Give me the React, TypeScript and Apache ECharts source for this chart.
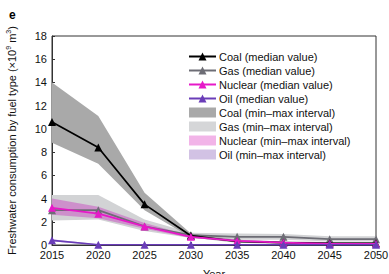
import React, { useEffect, useRef } from "react";
import * as echarts from "echarts";

const years = ["2015", "2020", "2025", "2030", "2035", "2040", "2045", "2050"];
const yTicks = [0, 18, 2];

const coalMedian = [10.6, 8.4, 3.5, 0.8, 0.3, 0.2, 0.15, 0.15];
const coalMin = [8.8, 7.0, 3.0, 0.65, 0.2, 0.1, 0.05, 0.05];
const coalMax = [14.0, 11.1, 4.5, 1.0, 0.45, 0.3, 0.25, 0.25];

const gasMedian = [3.0, 3.0, 1.6, 0.85, 0.7, 0.7, 0.5, 0.5];
const gasMin = [2.1, 2.2, 1.2, 0.6, 0.45, 0.45, 0.3, 0.3];
const gasMax = [4.3, 4.3, 2.2, 1.05, 1.0, 0.95, 0.75, 0.75];

const nuclearMedian = [3.2, 2.7, 1.6, 0.7, 0.35, 0.2, 0.1, 0.1];
const nuclearMin = [2.6, 2.3, 1.4, 0.6, 0.3, 0.15, 0.05, 0.05];
const nuclearMax = [4.0, 3.3, 1.9, 0.8, 0.45, 0.3, 0.15, 0.15];

const oilMedian = [0.4, 0.02, 0.02, 0.02, 0.02, 0.02, 0.02, 0.02];
const oilMin = [0.3, 0.0, 0.0, 0.0, 0.0, 0.0, 0.0, 0.0];
const oilMax = [0.5, 0.06, 0.06, 0.06, 0.06, 0.06, 0.06, 0.06];

const FONT = "Liberation Sans";

function band(key: string, name: string, mins: number[], maxs: number[], color: string, z: number) {
  return [
    {
      type: "line",
      name: key + "-base",
      stack: key,
      data: mins,
      symbol: "none",
      lineStyle: { opacity: 0 },
      silent: true,
      z,
    },
    {
      type: "line",
      name,
      stack: key,
      data: maxs.map((v, i) => +(v - mins[i]).toFixed(3)),
      symbol: "none",
      lineStyle: { opacity: 0 },
      areaStyle: { color, opacity: 1 },
      itemStyle: { color },
      silent: true,
      z,
    },
  ];
}

function median(name: string, data: number[], color: string, z: number) {
  return {
    type: "line",
    name,
    data,
    symbol: "triangle",
    symbolSize: 8,
    lineStyle: { color, width: 1.7 },
    itemStyle: { color },
    z,
  };
}

export default function App() {
  const ref = useRef<HTMLDivElement>(null);
  useEffect(() => {
    if (!ref.current) return;
    const chart = echarts.init(ref.current, null, { renderer: "svg" });
    chart.setOption({
      animation: false,
      textStyle: { fontFamily: FONT },
      graphic: [
        {
          type: "text",
          left: 9,
          top: 9,
          style: { text: "e", font: `bold 12px ${FONT}`, fill: "#000" },
        },
      ],
      grid: {
        left: 52,
        right: 13,
        top: 36,
        bottom: 29,
        outerBoundsMode: "none",
        containLabel: false,
        show: true,
        borderColor: "#333",
        borderWidth: 1,
        backgroundColor: "transparent",
      },
      legend: {
        orient: "vertical",
        left: 183,
        top: 46,
        itemWidth: 27,
        itemHeight: 10,
        itemGap: 3,
        textStyle: { fontFamily: FONT, fontSize: 11, color: "#111", padding: [0, 0, 0, -2] },
        data: [
          { name: "Coal (median value)" },
          { name: "Gas (median value)" },
          { name: "Nuclear (median value)" },
          { name: "Oil (median value)" },
          { name: "Coal (min–max interval)", icon: "rect", itemStyle: { color: "#a9a9a9" } },
          { name: "Gas (min–max interval)", icon: "rect", itemStyle: { color: "#d5d6d8" } },
          { name: "Nuclear (min–max interval)", icon: "rect", itemStyle: { color: "#f2b4e8" } },
          { name: "Oil (min–max interval)", icon: "rect", itemStyle: { color: "#d2c2e4" } },
        ],
      },
      xAxis: {
        type: "category",
        data: years,
        boundaryGap: false,
        name: "Year",
        nameLocation: "middle",
        nameGap: 23,
        nameTextStyle: { fontSize: 11, color: "#111" },
        axisLine: { lineStyle: { color: "#333" } },
        axisTick: { inside: true, length: 3, lineStyle: { color: "#333" } },
        axisLabel: { fontSize: 11, color: "#111", margin: 4 },
        splitLine: { show: false },
      },
      yAxis: {
        type: "value",
        min: yTicks[0],
        max: yTicks[1],
        interval: yTicks[2],
        name: "{a|Freshwater consumption by fuel type (×10}{s|9}{a| m}{s|3}{a|)}",
        nameLocation: "middle",
        nameRotate: 90,
        nameGap: 34,
        nameTextStyle: {
          rich: {
            a: { fontSize: 11, color: "#111", fontFamily: FONT },
            s: { fontSize: 7, color: "#111", fontFamily: FONT, verticalAlign: "top", padding: [0, 0, 6, 0] },
          },
        },
        axisLine: { show: true, lineStyle: { color: "#333" } },
        axisTick: { show: true, inside: true, length: 3, lineStyle: { color: "#333" } },
        axisLabel: { fontSize: 11, color: "#111", margin: 5 },
        splitLine: { show: false },
      },
      series: [
        ...band("gas", "Gas (min–max interval)", gasMin, gasMax, "#d2d3d5", 1),
        ...band("coal", "Coal (min–max interval)", coalMin, coalMax, "#a9a9a9", 2),
        ...band("nuclear", "Nuclear (min–max interval)", nuclearMin, nuclearMax, "rgba(200,90,195,0.55)", 3),
        ...band("oil", "Oil (min–max interval)", oilMin, oilMax, "rgba(170,140,210,0.6)", 3),
        median("Gas (median value)", gasMedian, "#6d6d75", 5),
        median("Coal (median value)", coalMedian, "#000000", 6),
        median("Nuclear (median value)", nuclearMedian, "#e619c8", 7),
        median("Oil (median value)", oilMedian, "#6a3db8", 8),
      ],
    });
    return () => chart.dispose();
  }, []);
  return <div ref={ref} style={{ position: "absolute", left: 0, top: 0, width: 389, height: 274 }} />;
}
